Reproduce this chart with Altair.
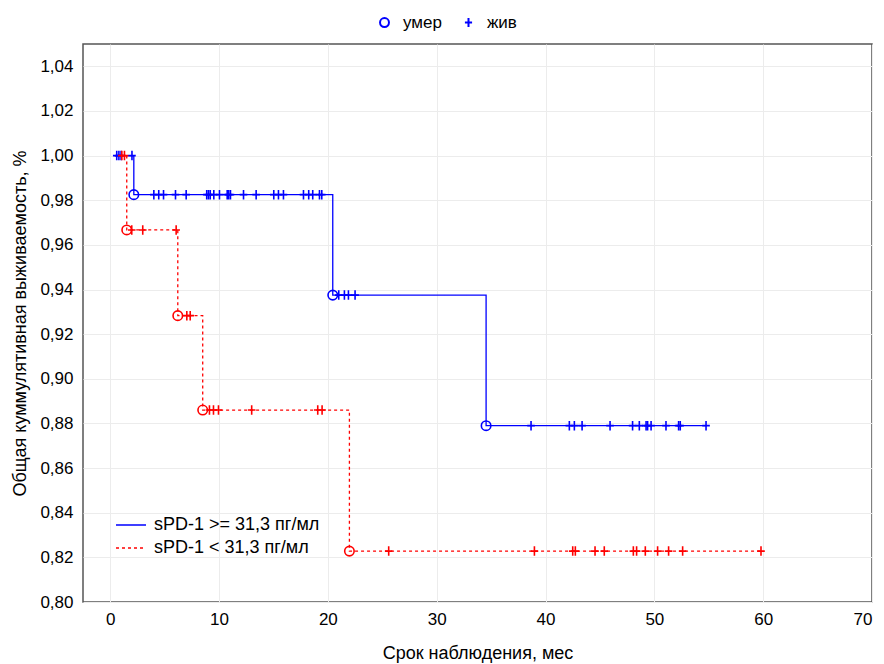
import altair as alt
import pandas as pd

# ---------------- data ----------------
groups = ["sPD-1 >= 31,3 пг/мл", "sPD-1 < 31,3 пг/мл"]
status_labels = ["умер", "жив"]

blue_start = 0.4
blue_event_t = [2.17, 20.45, 34.54]
blue_event_s = [0.9825, 0.9375, 0.879]
blue_cens_t = [0.6, 0.8, 1.0, 2.0,
               4.01, 4.46, 4.90, 6.00, 6.98, 8.87, 9.03, 9.19, 9.52, 10.04,
               10.75, 10.89, 11.05, 12.25, 13.41, 15.03, 15.46, 15.92, 17.76,
               18.24, 18.61, 19.23, 19.44,
               21.0, 21.52, 21.89, 22.5,
               38.67, 42.19, 42.65, 43.36, 45.93, 48.0, 48.62, 49.24, 49.38,
               49.7, 51.07, 52.23, 52.38, 54.75]

red_start = 0.4
red_event_t = [1.52, 6.21, 8.5, 21.98]
red_event_s = [0.9667, 0.9283, 0.886, 0.8228]
red_cens_t = [1.07, 1.31,
              1.98, 2.99, 6.06,
              7.04, 7.35,
              9.12, 9.49, 9.95, 13.0, 19.07, 19.47,
              25.59, 38.98, 42.5, 42.74, 44.55, 45.4, 48.07, 48.37, 49.17,
              50.3, 51.31, 52.6, 59.8]

x_ticks = [0, 10, 20, 30, 40, 50, 60, 70]
y_ticks = [0.80, 0.82, 0.84, 0.86, 0.88, 0.90, 0.92, 0.94, 0.96, 0.98, 1.00, 1.02, 1.04]

BLUE = "#0000ff"
RED = "#ff0000"
PLUS = "M-0.8,0H0.8M0,-1V1"
LINE_SYM = "M-1.5,0H1.5"
FONT = "Liberation Sans"


def surv_at(t, ev_t, ev_s):
    s = 1.0
    for et, es in zip(ev_t, ev_s):
        if et <= t:
            s = es
    return s


line_rows = []
point_rows = []
for g, start, ev_t, ev_s, c_t in [
    (groups[0], blue_start, blue_event_t, blue_event_s, blue_cens_t),
    (groups[1], red_start, red_event_t, red_event_s, red_cens_t),
]:
    line_rows.append({"t": start, "s": 1.0, "group": g})
    for et, es in zip(ev_t, ev_s):
        line_rows.append({"t": et, "s": es, "group": g})
        point_rows.append({"t": et, "s": es, "group": g, "status": status_labels[0]})
    last = max(c_t)
    line_rows.append({"t": last, "s": surv_at(last, ev_t, ev_s), "group": g})
    for ct in c_t:
        point_rows.append({"t": ct, "s": surv_at(ct, ev_t, ev_s), "group": g,
                           "status": status_labels[1]})

lines_df = pd.DataFrame(line_rows)
points_df = pd.DataFrame(point_rows)

x_enc = alt.X("t:Q",
              scale=alt.Scale(domain=[-2.5, 70], nice=False, zero=False),
              axis=alt.Axis(values=x_ticks, title="Срок наблюдения, мес",
                            labelPadding=9, titlePadding=17))
y_enc = alt.Y("s:Q",
              scale=alt.Scale(domain=[0.80, 1.05], nice=False, zero=False),
              axis=alt.Axis(values=y_ticks,
                            labelExpr="replace(format(datum.value, '.2f'), '.', ',')",
                            title="Общая куммулятивная выживаемость, %",
                            labelPadding=10, titlePadding=10))

line_legend = alt.Legend(orient="none", legendX=37, legendY=470,
                         title=None, symbolType=LINE_SYM,
                         symbolSize=400, symbolStrokeWidth=1.3,
                         labelFontSize=18, labelFont=FONT, labelLimit=400,
                         labelColor="#000000", rowPadding=3,
                         labelOffset=12, padding=0)

lines = alt.Chart(lines_df).mark_line(interpolate="step-after", strokeWidth=1.3).encode(
    x=x_enc,
    y=y_enc,
    color=alt.Color("group:N",
                    scale=alt.Scale(domain=groups, range=[BLUE, RED]),
                    legend=line_legend),
    strokeDash=alt.StrokeDash("group:N",
                              scale=alt.Scale(domain=groups, range=[[1, 0], [3, 3]]),
                              legend=line_legend),
    detail="group:N",
)

points = alt.Chart(points_df).mark_point(filled=False, strokeWidth=1.6, opacity=1,
                                          size=90).encode(
    x="t:Q",
    y="s:Q",
    stroke=alt.Stroke("group:N", scale=alt.Scale(domain=groups, range=[BLUE, RED]),
                      legend=None),
    shape=alt.Shape("status:N",
                    scale=alt.Scale(domain=status_labels, range=["circle", PLUS]),
                    legend=alt.Legend(orient="none", legendX=293, legendY=-30,
                                      direction="horizontal", title=None,
                                      symbolStrokeColor=BLUE, symbolFillColor="transparent",
                                      symbolStrokeWidth=2, symbolSize=80,
                                      labelFontSize=17, labelFont=FONT,
                                      labelColor="#000000", columnPadding=18,
                                      labelOffset=10, padding=0)),
)

chart = alt.layer(lines, points).properties(
    width=789, height=558,
    autosize="none",
    background="white",
    padding={"left": 75, "top": 36, "right": 3, "bottom": 62},
).configure_view(
    stroke="#555555", strokeWidth=1.5
).configure_axis(
    domain=False, ticks=False, grid=True, gridColor="#ececec", gridWidth=1,
    labelFont=FONT, labelFontSize=17, labelColor="#000000",
    titleFont=FONT, titleFontSize=18, titleFontWeight="normal", titleColor="#000000",
)

chart.save("out.html", embed_options={"renderer": "svg", "actions": False})
